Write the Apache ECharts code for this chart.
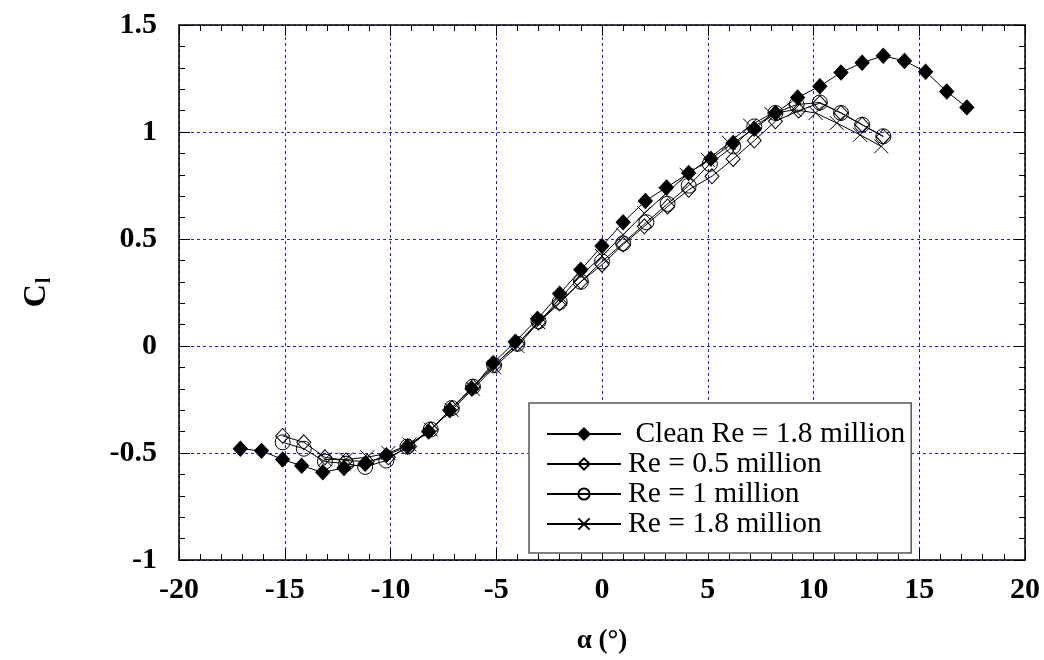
<!DOCTYPE html>
<html>
<head>
<meta charset="utf-8">
<script src="https://cdn.jsdelivr.net/npm/echarts@6/dist/echarts.min.js"></script>
<style>html,body{margin:0;padding:0;background:#fff;}#c{width:1044px;height:660px;}</style>
</head>
<body>
<div id="c"></div>
<script>
// ---- data ----
const cleanName = ' Clean Re = 1.8 million';
const re05Name = 'Re = 0.5 million';
const re1Name = 'Re = 1 million';
const re18Name = 'Re = 1.8 million';

const cleanX = [-17.1,-16.1,-15.1,-14.2,-13.2,-12.2,-11.2,-10.2,-9.2,-8.2,-7.2,-6.15,-5.15,-4.1,-3.05,-2.0,-1.0,0.0,1.0,2.05,3.05,4.1,5.15,6.2,7.2,8.2,9.25,10.3,11.3,12.3,13.3,14.3,15.3,16.3,17.25];
const cleanY = [-0.48,-0.49,-0.53,-0.56,-0.59,-0.57,-0.55,-0.51,-0.47,-0.40,-0.30,-0.20,-0.08,0.02,0.127,0.244,0.356,0.467,0.578,0.678,0.741,0.808,0.875,0.949,1.015,1.089,1.161,1.214,1.278,1.324,1.356,1.332,1.282,1.189,1.115];

const re05X = [-15.1,-14.1,-13.1,-12.1,-11.1,-10.1,-9.1,-8.1,-7.1,-6.1,-5.1,-4.0,-3.0,-2.0,-1.0,0.0,1.0,2.0,3.1,4.1,5.2,6.2,7.2,8.2,9.3,10.3,11.3,12.3,13.3];
const re05Y = [-0.42,-0.45,-0.52,-0.535,-0.54,-0.52,-0.47,-0.39,-0.29,-0.19,-0.09,0.01,0.11,0.20,0.30,0.38,0.474,0.559,0.652,0.73,0.793,0.874,0.96,1.05,1.10,1.135,1.089,1.034,0.978];

const re1X = [-15.1,-14.1,-13.1,-12.1,-11.2,-10.2,-9.2,-8.1,-7.1,-6.1,-5.1,-4.0,-3.0,-2.0,-1.0,0.0,1.0,2.1,3.1,4.1,5.1,6.2,7.2,8.2,9.2,10.3,11.3,12.3,13.3];
const re1Y = [-0.45,-0.48,-0.54,-0.55,-0.565,-0.535,-0.47,-0.39,-0.29,-0.19,-0.09,0.01,0.115,0.205,0.30,0.395,0.48,0.578,0.664,0.749,0.851,0.933,1.026,1.089,1.128,1.138,1.089,1.034,0.98];

const re18X = [-13.1,-12.1,-11.1,-10.1,-9.1,-8.1,-7.1,-6.1,-5.1,-4.0,-3.0,-2.0,-1.0,0.0,1.0,2.0,3.0,4.0,5.0,6.0,7.0,8.0,9.1,10.1,11.1,12.2,13.2];
const re18Y = [-0.53,-0.53,-0.52,-0.50,-0.46,-0.39,-0.30,-0.20,-0.10,0.0,0.11,0.22,0.33,0.42,0.52,0.62,0.71,0.80,0.87,0.95,1.03,1.085,1.104,1.089,1.042,0.987,0.933];

const xTicks = [-20,-15,-10,-5,0,5,10,15,20];
const yTicks = [-1,-0.5,0,0.5,1,1.5];

// ---- chart ----
const pairs = (xs, ys) => xs.map((x, i) => [x, ys[i]]);
const FONT = '"Liberation Serif", "Times New Roman", serif';
const gridLine = {show:true, lineStyle:{color:'#1a1aee', width:1, type:[3,3]}};

const axisBase = {
  axisLine:{show:true, onZero:false, lineStyle:{color:'#000', width:1.5}},
  axisTick:{show:true, inside:true, length:11, lineStyle:{color:'#000', width:1}},
  minorTick:{show:true, splitNumber:5, length:6, lineStyle:{color:'#000', width:1}},
  minorSplitLine:{show:false}
};

const crossPath = 'path://M0,0L10,10M10,0L0,10';
const lineStyle = {color:'#000', width:1};

const chart = echarts.init(document.getElementById('c'), null, {renderer:'canvas'});
chart.setOption({
  animation:false,
  backgroundColor:'#fff',
  grid:{left:179, right:19, top:25, bottom:100, containLabel:false},
  xAxis:[
    Object.assign({}, axisBase, {
      type:'value', min:xTicks[0], max:xTicks[xTicks.length-1], interval:5, position:'bottom',
      splitLine:gridLine,
      axisLabel:{color:'#000', fontFamily:FONT, fontWeight:'bold', fontSize:30, margin:15},
      name:'\u03b1 (\u00b0)', nameLocation:'middle', nameGap:68,
      nameTextStyle:{color:'#000', fontFamily:FONT, fontWeight:'bold', fontSize:27}
    }),
    Object.assign({}, axisBase, {
      type:'value', min:xTicks[0], max:xTicks[xTicks.length-1], interval:5, position:'top',
      splitLine:{show:false}, axisLabel:{show:false}
    })
  ],
  yAxis:[
    Object.assign({}, axisBase, {
      type:'value', min:yTicks[0], max:yTicks[yTicks.length-1], interval:0.5, position:'left',
      splitLine:gridLine,
      axisLabel:{color:'#000', fontFamily:FONT, fontWeight:'bold', fontSize:30, margin:22},
      name:'{a|C}{b|l}', nameLocation:'middle', nameGap:124, nameRotate:90,
      nameTextStyle:{color:'#000', fontFamily:FONT, fontWeight:'bold',
        rich:{
          a:{fontFamily:FONT, fontWeight:'bold', fontSize:32, color:'#000'},
          b:{fontFamily:FONT, fontWeight:'bold', fontSize:20, color:'#000', padding:[16,0,0,1]}
        }}
    }),
    Object.assign({}, axisBase, {
      type:'value', min:yTicks[0], max:yTicks[yTicks.length-1], interval:0.5, position:'right',
      splitLine:{show:false}, axisLabel:{show:false}
    })
  ],
  legend:{
    orient:'vertical', left:529, top:403,
    data:[cleanName, re05Name, re1Name, re18Name],
    itemWidth:74, itemHeight:14, itemGap:0,
    padding:[16,6,14,17],
    borderColor:'#555', borderWidth:1.5, backgroundColor:'#fff',
    textStyle:{color:'#000', fontFamily:FONT, fontSize:29.5, lineHeight:29.5, padding:[0,0,0,2]}
  },
  series:[
    {name:re05Name, type:'line', data:pairs(re05X, re05Y), symbol:'diamond', symbolSize:[14,15],
     lineStyle:lineStyle, itemStyle:{color:'rgba(255,255,255,0)', borderColor:'#000', borderWidth:1}, z:3},
    {name:re1Name, type:'line', data:pairs(re1X, re1Y), symbol:'circle', symbolSize:15,
     lineStyle:lineStyle, itemStyle:{color:'rgba(255,255,255,0)', borderColor:'#000', borderWidth:1}, z:3},
    {name:re18Name, type:'line', data:pairs(re18X, re18Y), symbol:crossPath, symbolSize:14,
     lineStyle:lineStyle, itemStyle:{color:'rgba(255,255,255,0)', borderColor:'#000', borderWidth:1}, z:3},
    {name:cleanName, type:'line', data:pairs(cleanX, cleanY), symbol:'diamond', symbolSize:[14,15],
     lineStyle:lineStyle, itemStyle:{color:'#000', borderColor:'#000', borderWidth:1}, z:4}
  ]
});
</script>
</body>
</html>
